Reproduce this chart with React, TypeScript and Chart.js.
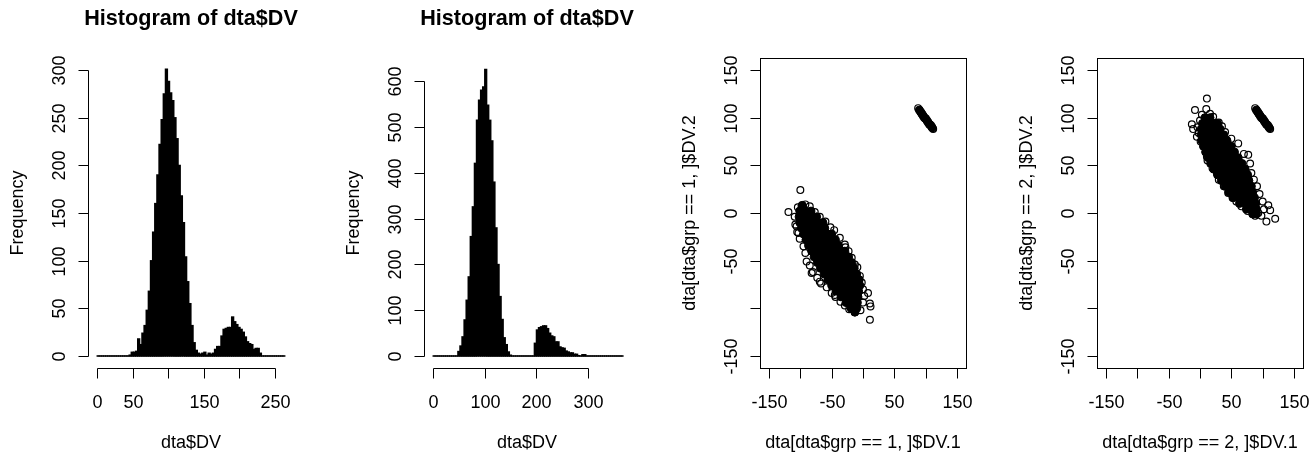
import React, { useEffect, useRef } from "react";
import { Chart, registerables } from "chart.js";

Chart.register(...registerables);

const FONT_FAMILY = '"Liberation Sans", Arial, Helvetica, sans-serif';

// ---------------- Histogram 1 (left) ----------------
const hist1Start = 0;
const hist1BinWidth = 3;
const hist1Counts = [
  0, 0, 0, 0, 0, 0, 0, 0, 0, 0, 0, 0, 0, 0, 0,
  1, 4, 4, 5, 18, 12, 24, 32, 48, 68, 100, 130, 160, 190, 222,
  248, 275, 301, 288, 276, 268, 250, 228, 200, 168, 140, 104, 78, 55, 32,
  14, 6, 3, 2, 3, 4, 1, 3, 2, 3, 7, 10, 10, 21, 28,
  29, 30, 30, 41, 36, 33, 30, 28, 25, 20, 15, 13, 12, 7, 8,
  8, 3, 0, 0, 0, 0, 0, 0, 0, 0, 0, 0, 0,
];
const hist1XTicks = [0, 50, 100, 150, 200, 250];
const hist1XTickLabels = ["0", "50", "", "150", "", "250"];
const hist1YTicks = [0, 50, 100, 150, 200, 250, 300];
const hist1YTickLabels = ["0", "50", "100", "150", "200", "250", "300"];

// ---------------- Histogram 2 ----------------
const hist2Start = 0;
const hist2BinWidth = 4;
const hist2Counts = [
  0, 0, 0, 0, 0, 0, 0, 0, 0, 0, 0, 0,
  10, 22, 42, 79, 122, 173, 261, 326, 421, 515, 559, 581, 588, 626,
  548, 515, 470, 380, 280, 200, 130, 80, 40, 25, 9, 2,
  0, 0, 0, 0, 0, 0, 0, 0, 0, 0, 0,
  28, 57, 62, 64, 66, 66, 60, 50, 44, 42, 31, 31, 20, 18, 17,
  11, 9, 7, 7, 4, 4, 1, 0, 3, 3,
  0, 0, 0, 0, 0, 0, 0, 0, 0, 0, 0, 0, 0, 0, 0, 0, 0, 0,
];
const hist2XTicks = [0, 100, 200, 300];
const hist2XTickLabels = ["0", "100", "200", "300"];
const hist2YTicks = [0, 100, 200, 300, 400, 500, 600];
const hist2YTickLabels = ["0", "100", "200", "300", "400", "500", "600"];

const histTitle = "Histogram of dta$DV";
const histXTitle = "dta$DV";
const histYTitle = "Frequency";

// ---------------- Scatter panels ----------------
const scatterTicks = [-150, -100, -50, 0, 50, 100, 150];
const scatterXTickLabels = ["-150", "", "-50", "", "50", "", "150"];
const scatterYTickLabels = ["-150", "", "-50", "0", "50", "100", "150"];

const scatter1XTitle = "dta[dta$grp == 1, ]$DV.1";
const scatter1YTitle = "dta[dta$grp == 1, ]$DV.2";
const scatter2XTitle = "dta[dta$grp == 2, ]$DV.1";
const scatter2YTitle = "dta[dta$grp == 2, ]$DV.2";

// group 1, large cluster: dense core and outer points
const grp1Core: [number, number][] = [
  [-97, 8],
  [-101, 2], [-92, 2], [-83, 2],
  [-102, -4], [-93, -4], [-84, -4], [-74, -4],
  [-101, -10], [-92, -10], [-82, -10], [-73, -10], [-64, -10],
  [-98, -16], [-89, -16], [-79, -16], [-70, -16], [-61, -16],
  [-95, -22], [-86, -22], [-76, -22], [-67, -22], [-58, -22], [-50, -22],
  [-91, -28], [-81, -28], [-72, -28], [-63, -28], [-54, -28], [-44, -28],
  [-87, -34], [-77, -34], [-68, -34], [-59, -34], [-50, -34], [-39, -34],
  [-82, -40], [-72, -40], [-63, -40], [-54, -40], [-45, -40], [-36, -40], [-29, -40],
  [-78, -46], [-68, -46], [-59, -46], [-50, -46], [-41, -46], [-32, -46], [-23, -46],
  [-73, -52], [-63, -52], [-54, -52], [-45, -52], [-36, -52], [-27, -52], [-18, -52],
  [-68, -58], [-58, -58], [-49, -58], [-40, -58], [-31, -58], [-22, -58], [-14, -58],
  [-62, -64], [-52, -64], [-43, -64], [-34, -64], [-25, -64], [-16, -64], [-10, -64],
  [-56, -70], [-47, -70], [-38, -70], [-29, -70], [-20, -70], [-11, -70], [-6, -70],
  [-50, -76], [-41, -76], [-32, -76], [-23, -76], [-14, -76], [-5, -76],
  [-43, -82], [-34, -82], [-25, -82], [-16, -82], [-7, -82],
  [-35, -88], [-26, -88], [-17, -88], [-8, -88],
  [-27, -94], [-18, -94], [-9, -94],
  [-19, -100], [-10, -100],
  [-13, -104],
];
const grp1Ring: [number, number][] = [
  [-104, 6], [-109, -4], [-108, -12], [-105, -20], [-101, -27], [-95, -35], [-92, -42],
  [-90, -51], [-85, -55], [-80, -62], [-73, -68], [-67, -74], [-58, -78], [-50, -84],
  [-44, -88], [-36, -93], [-29, -97], [-22, -101], [-13, -104], [-4, -102],
  [-92, 9], [-85, 7], [-77, 1], [-69, -4], [-60, -9], [-52, -15], [-46, -18],
  [-37, -26], [-29, -33], [-23, -40], [-18, -47], [-13, -54], [-9, -57], [-5, -66],
  [-2, -73], [0, -80], [2, -87], [0, -94], [8, -84], [11, -95], [12, -98], [11, -112],
  [-100, 24], [-119, 1], [-98, 7], [-82, -4], [-106, -14], [-103, -21], [-69, -72],
  [-82, -63], [-28, -36], [-45, -86],
];

// group 2, large cluster
const grp2Core: [number, number][] = [
  [8, 100], [16, 100],
  [4, 94], [13, 94], [22, 94], [28, 94],
  [2, 88], [11, 88], [20, 88], [29, 88], [32, 88],
  [2, 82], [11, 82], [20, 82], [29, 82], [38, 82],
  [3, 76], [12, 76], [21, 76], [30, 76], [39, 76], [43, 76],
  [6, 70], [15, 70], [24, 70], [33, 70], [42, 70], [50, 70],
  [9, 64], [18, 64], [27, 64], [36, 64], [45, 64], [55, 64],
  [13, 58], [22, 58], [31, 58], [40, 58], [49, 58], [58, 58], [61, 58],
  [17, 52], [26, 52], [35, 52], [44, 52], [53, 52], [62, 52], [67, 52],
  [22, 46], [31, 46], [40, 46], [49, 46], [58, 46], [67, 46], [72, 46],
  [28, 40], [37, 40], [46, 40], [55, 40], [64, 40], [73, 40], [76, 40],
  [34, 34], [43, 34], [52, 34], [61, 34], [70, 34], [78, 34],
  [40, 28], [49, 28], [58, 28], [67, 28], [76, 28], [82, 28],
  [46, 22], [55, 22], [64, 22], [73, 22], [84, 22],
  [53, 16], [62, 16], [71, 16], [80, 16], [87, 16],
  [63, 10], [72, 10], [81, 10], [89, 10],
  [74, 4], [83, 4], [90, 4],
  [84, -1], [90, -1],
];
const grp2Ring: [number, number][] = [
  [-8, 108], [11, 120], [10, 109], [-13, 93], [-5, 80], [0, 97], [35, 91], [61, 73],
  [77, 61], [80, 52], [82, 42], [109, 8], [106, -9], [120, -6], [93, 0], [58, 12],
  [45, 21], [27, 42], [11, 59], [5, 70], [21, 101], [-11, 88], [-4, 90], [3, 103],
  [40, 85], [50, 78], [70, 62], [86, 35], [91, 28], [95, 20], [100, 12], [102, 4],
  [98, -3], [88, -3], [76, 2], [66, 7], [52, 16], [38, 28], [30, 35], [20, 47],
  [12, 55], [1, 75], [-2, 84], [30, 95], [16, 104], [112, 3],
];

// small tight cluster near (100, 100), present in both groups
const smallCore: [number, number][] = [
  [90, 108], [92, 106], [94, 104], [96, 102], [98, 100], [100, 99],
  [102, 97], [104, 95], [106, 93], [108, 92], [110, 90],
];
const smallRing: [number, number][] = [[88, 110], [111, 89], [112, 88]];

// ---------------- drawing helpers ----------------
type AxisDef = { ticks: number[]; labels: string[] };
type Decor = {
  main?: string;
  xTitle: string;
  yTitle: string;
  x: AxisDef;
  y: AxisDef;
  box: boolean;
};

const TICK_LEN = 10;

function makeDecorPlugin(decor: Decor) {
  return {
    id: "rDecor",
    afterDraw(chart: any) {
      const ctx: CanvasRenderingContext2D = chart.ctx;
      const area = chart.chartArea;
      const xs = chart.scales.x;
      const ys = chart.scales.y;
      ctx.save();
      ctx.strokeStyle = "#000";
      ctx.fillStyle = "#000";
      ctx.lineWidth = 1;
      const bottom = Math.round(area.bottom) + 0.5;
      const left = Math.round(area.left) + 0.5;
      const top = Math.round(area.top) + 0.5;
      const right = Math.round(area.right) + 0.5;
      if (decor.box) {
        ctx.strokeRect(left, top, right - left, bottom - top);
      }
      const xt = decor.x.ticks.map((v) => Math.round(xs.getPixelForValue(v)) + 0.5);
      const yt = decor.y.ticks.map((v) => Math.round(ys.getPixelForValue(v)) + 0.5);
      ctx.beginPath();
      ctx.moveTo(xt[0], bottom);
      ctx.lineTo(xt[xt.length - 1], bottom);
      xt.forEach((px) => {
        ctx.moveTo(px, bottom);
        ctx.lineTo(px, bottom + TICK_LEN);
      });
      ctx.moveTo(left, yt[0]);
      ctx.lineTo(left, yt[yt.length - 1]);
      yt.forEach((py) => {
        ctx.moveTo(left, py);
        ctx.lineTo(left - TICK_LEN, py);
      });
      ctx.stroke();

      ctx.font = `18px ${FONT_FAMILY}`;
      ctx.textAlign = "center";
      ctx.textBaseline = "alphabetic";
      decor.x.labels.forEach((lab, i) => {
        if (lab) ctx.fillText(lab, xt[i], area.bottom + 40);
      });
      decor.y.labels.forEach((lab, i) => {
        if (!lab) return;
        ctx.save();
        ctx.translate(area.left - 23, yt[i]);
        ctx.rotate(-Math.PI / 2);
        ctx.fillText(lab, 0, 0);
        ctx.restore();
      });
      const cx = (area.left + area.right) / 2;
      const cy = (area.top + area.bottom) / 2;
      ctx.fillText(decor.xTitle, cx, area.bottom + 80);
      ctx.save();
      ctx.translate(area.left - 65, cy);
      ctx.rotate(-Math.PI / 2);
      ctx.fillText(decor.yTitle, 0, 0);
      ctx.restore();
      if (decor.main) {
        ctx.font = `bold 21.6px ${FONT_FAMILY}`;
        ctx.fillText(decor.main, cx, 25);
      }
      ctx.restore();
    },
  };
}

type Pad = { left: number; right: number; top: number; bottom: number };

function histConfig(
  counts: number[],
  start: number,
  binWidth: number,
  xRange: [number, number],
  yRange: [number, number],
  padding: Pad,
  decor: Decor
): any {
  const bars = counts.map((c, i) => ({ x: start + (i + 0.5) * binWidth, y: c }));
  const baseline = [
    { x: start, y: 0 },
    { x: start + counts.length * binWidth, y: 0 },
  ];
  return {
    type: "bar",
    data: {
      datasets: [
        {
          type: "bar",
          label: "Frequency",
          data: bars,
          backgroundColor: "#000",
          borderWidth: 0,
          barPercentage: 1,
          categoryPercentage: 1,
          grouped: false,
          inflateAmount: 0.6,
        },
        {
          type: "line",
          label: "base",
          data: baseline,
          borderColor: "#000",
          borderWidth: 1,
          pointRadius: 0,
          fill: false,
        },
      ],
    },
    options: {
      responsive: false,
      animation: false,
      devicePixelRatio: 1,
      events: [],
      layout: { padding },
      plugins: {
        legend: { display: false },
        tooltip: { enabled: false },
        title: { display: false },
      },
      scales: {
        x: { type: "linear", min: xRange[0], max: xRange[1], display: false, offset: false },
        y: { type: "linear", min: yRange[0], max: yRange[1], display: false },
      },
    },
    plugins: [makeDecorPlugin(decor)],
  };
}

function toXY(pts: [number, number][]) {
  return pts.map(([x, y]) => ({ x, y }));
}

function scatterConfig(
  core: [number, number][],
  ring: [number, number][],
  padding: Pad,
  decor: Decor
): any {
  return {
    type: "scatter",
    data: {
      datasets: [
        {
          label: "core",
          data: toXY([...core, ...smallCore]),
          pointRadius: 4,
          pointBackgroundColor: "#000",
          pointBorderColor: "#000",
          pointBorderWidth: 1,
        },
        {
          label: "points",
          data: toXY([...ring, ...smallRing]),
          pointRadius: 3.4,
          pointBackgroundColor: "rgba(0,0,0,0)",
          pointBorderColor: "#000",
          pointBorderWidth: 1.2,
        },
      ],
    },
    options: {
      responsive: false,
      animation: false,
      devicePixelRatio: 1,
      events: [],
      layout: { padding },
      plugins: {
        legend: { display: false },
        tooltip: { enabled: false },
        title: { display: false },
      },
      scales: {
        x: { type: "linear", min: -164.4, max: 164.4, display: false },
        y: { type: "linear", min: -162.6, max: 162.6, display: false },
      },
    },
    plugins: [makeDecorPlugin(decor)],
  };
}

function Panel({ left, width, make }: { left: number; width: number; make: () => any }) {
  const ref = useRef<HTMLCanvasElement | null>(null);
  useEffect(() => {
    if (!ref.current) return;
    const chart = new Chart(ref.current, make());
    return () => chart.destroy();
  }, []);
  return (
    <canvas
      ref={ref}
      width={width}
      height={456}
      style={{ position: "absolute", left, top: 0, width, height: 456 }}
    />
  );
}

export default function App() {
  return (
    <div
      style={{
        position: "absolute",
        left: 0,
        top: 0,
        width: 1314,
        height: 456,
        background: "#fff",
        overflow: "hidden",
      }}
    >
      <Panel
        left={0}
        width={330}
        make={() =>
          histConfig(
            hist1Counts,
            hist1Start,
            hist1BinWidth,
            [-12.64, 276.7],
            [-12.59, 312.59],
            { left: 88, right: 36, top: 58, bottom: 88 },
            {
              main: histTitle,
              xTitle: histXTitle,
              yTitle: histYTitle,
              x: { ticks: hist1XTicks, labels: hist1XTickLabels },
              y: { ticks: hist1YTicks, labels: hist1YTickLabels },
              box: false,
            }
          )
        }
      />
      <Panel
        left={330}
        width={330}
        make={() =>
          histConfig(
            hist2Counts,
            hist2Start,
            hist2BinWidth,
            [-17.4, 381.3],
            [-26.2, 650.9],
            { left: 94, right: 30, top: 58, bottom: 88 },
            {
              main: histTitle,
              xTitle: histXTitle,
              yTitle: histYTitle,
              x: { ticks: hist2XTicks, labels: hist2XTickLabels },
              y: { ticks: hist2YTicks, labels: hist2YTickLabels },
              box: false,
            }
          )
        }
      />
      <Panel
        left={660}
        width={330}
        make={() =>
          scatterConfig(grp1Core, grp1Ring, { left: 100, right: 24, top: 58, bottom: 88 }, {
            xTitle: scatter1XTitle,
            yTitle: scatter1YTitle,
            x: { ticks: scatterTicks, labels: scatterXTickLabels },
            y: { ticks: scatterTicks, labels: scatterYTickLabels },
            box: true,
          })
        }
      />
      <Panel
        left={990}
        width={324}
        make={() =>
          scatterConfig(grp2Core, grp2Ring, { left: 107, right: 11, top: 58, bottom: 88 }, {
            xTitle: scatter2XTitle,
            yTitle: scatter2YTitle,
            x: { ticks: scatterTicks, labels: scatterXTickLabels },
            y: { ticks: scatterTicks, labels: scatterYTickLabels },
            box: true,
          })
        }
      />
    </div>
  );
}
